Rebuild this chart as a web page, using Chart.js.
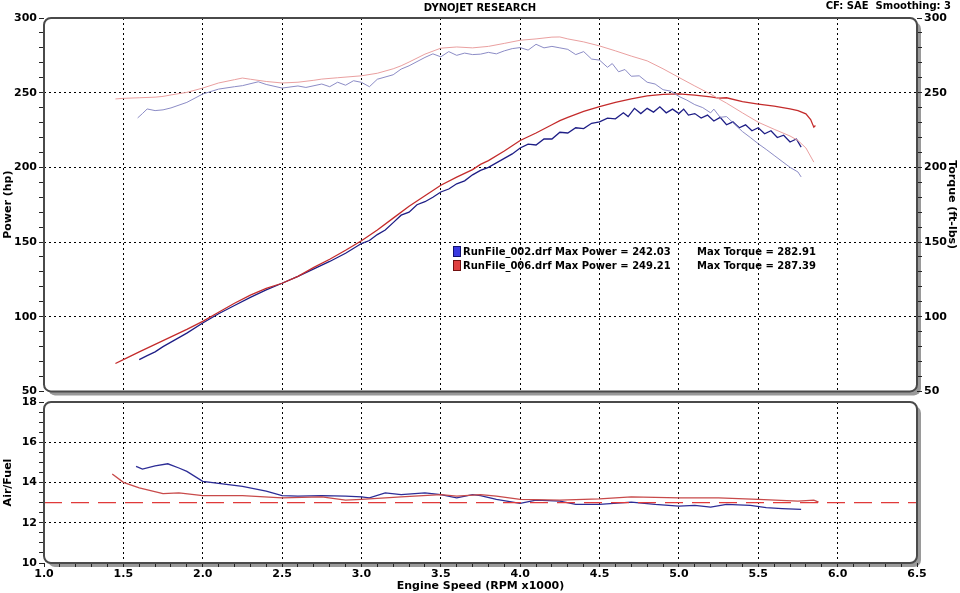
<!DOCTYPE html>
<html>
<head>
<meta charset="utf-8">
<script src="https://cdn.jsdelivr.net/npm/chart.js@4.4.0/dist/chart.umd.min.js"></script>
<style>
  html, body { margin: 0; padding: 0; background: #fff; }
  #wrap { position: relative; width: 960px; height: 593px; overflow: hidden; font-family: "DejaVu Sans", Verdana, sans-serif; }
  #top { position: absolute; left: 0; top: 0; }
  #bottom { position: absolute; left: 0; top: 386px; }
  .hdr { position: absolute; font-weight: bold; font-size: 10px; color: #000; white-space: nowrap; }
</style>
</head>
<body>
<div id="wrap">
  <canvas id="top" width="960" height="400"></canvas>
  <canvas id="bottom" width="960" height="207"></canvas>
  <div class="hdr" style="left:0;width:960px;text-align:center;top:2px;">DYNOJET RESEARCH</div>
  <div class="hdr" style="right:9px;top:0px;">CF: SAE&nbsp; Smoothing: 3</div>
</div>
<script>
// Runs and summary values
const runNames = ['RunFile_002.drf', 'RunFile_006.drf'];
const maxPower = [242.03, 249.21];
const maxTorque = [282.91, 287.39];

// Tick labels
const rpmLabels = [1.0, 1.5, 2.0, 2.5, 3.0, 3.5, 4.0, 4.5, 5.0, 5.5, 6.0, 6.5];
const powerLabels = [50, 100, 150, 200, 250, 300];
const afrLabels = [10, 12, 14, 16, 18];
const afrTarget = 13.0;

// Run 002 (blue) - power
const rpm002Power = [1.60, 1.65, 1.70, 1.75, 1.80, 1.90, 2.00, 2.10, 2.20, 2.30, 2.40, 2.50, 2.60, 2.70, 2.80, 2.90,
  3.00, 3.05, 3.10, 3.15, 3.20, 3.25, 3.30, 3.35, 3.40, 3.45, 3.50, 3.55, 3.60, 3.65, 3.70, 3.75, 3.80, 3.85, 3.90, 3.95,
  4.00, 4.05, 4.10, 4.15, 4.20, 4.25, 4.30, 4.35, 4.40, 4.45, 4.50, 4.55, 4.60, 4.65, 4.68, 4.72, 4.76, 4.80, 4.84, 4.88,
  4.92, 4.96, 5.00, 5.03, 5.06, 5.10, 5.14, 5.18, 5.22, 5.26, 5.30, 5.34, 5.38, 5.42, 5.46, 5.50, 5.54, 5.58, 5.62, 5.66,
  5.70, 5.74, 5.77];
const power002 = [71.3, 74, 76.5, 80, 83, 89, 95.8, 102, 107.5, 113, 118, 122.4, 127, 132, 137, 142.5,
  149, 151, 155, 158, 163, 168, 170, 175, 177, 180, 183.5, 185.5, 189, 191, 195, 198, 200, 203, 206, 209,
  213, 215.5, 215, 219, 219, 223.5, 223, 226.5, 226, 229.5, 230.5, 233, 232.5, 236.5, 234, 239.5, 236, 239.5, 237, 240.5,
  236.5, 239, 236, 239, 235, 236, 233, 235, 231, 233.5, 228.5, 230.5, 226.5, 228.5, 224.5, 226.5, 222.5, 224.5, 220, 221.5,
  217, 219, 213.5];

// Run 006 (red) - power
const rpm006Power = [1.45, 1.50, 1.60, 1.70, 1.80, 1.90, 2.00, 2.10, 2.20, 2.30, 2.40, 2.50, 2.60, 2.70, 2.80, 2.90,
  3.00, 3.10, 3.20, 3.30, 3.40, 3.50, 3.60, 3.70, 3.75, 3.80, 3.90, 4.00, 4.10, 4.20, 4.25, 4.30, 4.40, 4.50, 4.60,
  4.70, 4.75, 4.80, 4.90, 5.00, 5.10, 5.20, 5.25, 5.30, 5.40, 5.50, 5.60, 5.70, 5.75, 5.80, 5.83, 5.85, 5.86];
const power006 = [68.7, 71.3, 76.5, 81.5, 86.5, 91.5, 96.9, 103, 109, 114.5, 119, 122.4, 127, 133, 138.5, 144.5,
  150.9, 158, 166, 174, 181, 188, 193.5, 198.5, 202, 204.5, 211, 218, 223, 228.5, 231.3, 233.5, 237.5, 240.7, 243.5,
  245.8, 246.9, 247.8, 248.8, 249.2, 248.4, 247.2, 246.4, 246.6, 244, 242.4, 241, 239.1, 238, 235.8, 232, 226.9, 228];

// Run 002 (blue) - torque
const rpm002Torque = [1.59, 1.62, 1.65, 1.70, 1.75, 1.80, 1.90, 2.00, 2.10, 2.20, 2.25, 2.35, 2.40, 2.50, 2.60, 2.65,
  2.75, 2.80, 2.85, 2.90, 2.95, 3.00, 3.05, 3.10, 3.20, 3.25, 3.30, 3.40, 3.45, 3.50, 3.55, 3.60, 3.65, 3.70, 3.75,
  3.80, 3.85, 3.90, 3.95, 4.00, 4.05, 4.10, 4.15, 4.20, 4.25, 4.30, 4.35, 4.40, 4.45, 4.50, 4.55, 4.58, 4.62, 4.66,
  4.70, 4.75, 4.80, 4.85, 4.90, 4.95, 5.00, 5.05, 5.10, 5.15, 5.20, 5.22, 5.26, 5.30, 5.35, 5.40, 5.45, 5.50, 5.55,
  5.60, 5.65, 5.70, 5.75, 5.77];
const torque002 = [233.1, 236, 239.1, 238, 238.5, 239.8, 243.5, 249.1, 252.4, 254, 254.7, 257.3, 255.5, 253.1, 254.5, 253.5,
  255.8, 254, 257, 255, 258, 256.9, 254, 259, 262, 265.8, 268, 273.6, 276, 274, 277.5, 275, 276.5, 275.5, 275.8,
  277, 276, 278, 279.5, 280.2, 278.5, 282.4, 280, 281, 280, 279, 275.5, 277.5, 272.5, 271.8, 267, 269.5, 264, 265.5,
  261, 261.3, 257, 255.8, 252, 251, 247.5, 245, 242, 240, 236.5, 239, 233.5, 234, 229, 224, 220, 215.8, 212,
  208, 204, 200, 196.9, 193.6];

// Run 006 (red) - torque
const rpm006Torque = [1.45, 1.50, 1.60, 1.70, 1.75, 1.80, 1.90, 2.00, 2.10, 2.20, 2.25, 2.30, 2.40, 2.50, 2.60, 2.70,
  2.75, 2.85, 3.00, 3.10, 3.20, 3.25, 3.30, 3.40, 3.50, 3.60, 3.70, 3.80, 3.90, 4.00, 4.10, 4.20, 4.25, 4.30, 4.40,
  4.50, 4.60, 4.70, 4.80, 4.90, 5.00, 5.10, 5.20, 5.30, 5.40, 5.50, 5.60, 5.70, 5.75, 5.80, 5.85];
const torque006 = [245.8, 246.2, 246.6, 247, 247.5, 248.5, 250.2, 253.1, 256.5, 258.7, 259.8, 259, 257.5, 256.5, 257, 258.3,
  259.1, 260, 261.3, 263, 266, 268, 270.5, 275.8, 279.8, 280.6, 280, 281, 283, 285.1, 286, 287.2, 287.3, 286, 284,
  281.3, 278, 274.5, 271.3, 266, 260.2, 254.5, 249, 243, 236.5, 230.2, 225.5, 221, 218, 213, 203.5];

// Air/Fuel
const rpm002Afr = [1.58, 1.62, 1.70, 1.78, 1.85, 1.90, 2.00, 2.25, 2.40, 2.50, 2.60, 2.75, 2.90, 3.00, 3.05, 3.15,
  3.25, 3.40, 3.50, 3.60, 3.70, 3.75, 3.85, 4.00, 4.10, 4.25, 4.35, 4.50, 4.70, 4.85, 5.00, 5.10, 5.20, 5.30, 5.45,
  5.55, 5.65, 5.77];
const afr002 = [14.80, 14.67, 14.83, 14.93, 14.72, 14.55, 14.06, 13.81, 13.57, 13.35, 13.32, 13.35, 13.32, 13.29, 13.24, 13.48,
  13.40, 13.48, 13.40, 13.24, 13.40, 13.35, 13.16, 12.96, 13.12, 13.07, 12.91, 12.91, 13.02, 12.91, 12.83, 12.86, 12.78, 12.91, 12.86,
  12.75, 12.70, 12.66];
const rpm006Afr = [1.43, 1.50, 1.60, 1.75, 1.85, 2.00, 2.25, 2.50, 2.75, 2.90, 3.00, 3.25, 3.50, 3.60, 3.75, 3.85,
  4.00, 4.25, 4.50, 4.70, 5.00, 5.25, 5.50, 5.75, 5.85, 5.88];
const afr006 = [14.42, 14.01, 13.73, 13.45, 13.48, 13.35, 13.35, 13.24, 13.29, 13.12, 13.16, 13.29, 13.40, 13.32, 13.40, 13.32,
  13.16, 13.12, 13.19, 13.29, 13.24, 13.24, 13.16, 13.07, 13.12, 13.02];

const xy = (xs, ys) => xs.map((x, i) => ({ x: x, y: ys[i] }));

const BLUE_PWR = '#1e1e86';
const RED_PWR = '#c42c2c';
const BLUE_TQ = '#8c8cc6';
const RED_TQ = '#eaa0a0';
const BLUE_AFR = '#2c2c96';
const RED_AFR = '#c84a4a';

const tickFont = { family: '"DejaVu Sans", Verdana, sans-serif', size: 11, weight: 'bold' };
const titleFont = { family: '"DejaVu Sans", Verdana, sans-serif', size: 11, weight: 'bold' };
const isOn = (v, list) => list.some(t => Math.abs(t - v) < 1e-6);
const xMajor = rpmLabels.slice(1, -1);

// white rounded panel with gray shadow, border drawn over the data
const panelPlugin = {
  id: 'panel',
  beforeDraw(chart) {
    const { ctx, chartArea: a } = chart;
    ctx.save();
    ctx.fillStyle = '#9a9a9a';
    ctx.beginPath();
    ctx.roundRect(a.left + 4, a.top + 4, a.right - a.left, a.bottom - a.top, 7);
    ctx.fill();
    ctx.fillStyle = '#fff';
    ctx.beginPath();
    ctx.roundRect(a.left, a.top, a.right - a.left, a.bottom - a.top, 7);
    ctx.fill();
    ctx.restore();
  },
  afterDraw(chart) {
    const { ctx, chartArea: a } = chart;
    ctx.save();
    ctx.strokeStyle = '#4a4a4a';
    ctx.lineWidth = 2;
    ctx.beginPath();
    ctx.roundRect(a.left, a.top, a.right - a.left, a.bottom - a.top, 7);
    ctx.stroke();
    ctx.restore();
  }
};

// the in-plot run legend
const runLegend = {
  id: 'runLegend',
  afterDatasetsDraw(chart) {
    const { ctx, chartArea: a } = chart;
    const colors = [['#3a3ae0', '#101070'], ['#e04040', '#701010']];
    ctx.save();
    ctx.font = 'bold 10px "DejaVu Sans", Verdana, sans-serif';
    ctx.textBaseline = 'middle';
    ctx.fillStyle = '#000';
    runNames.forEach((name, i) => {
      const y = a.top + 233 + i * 14;
      ctx.fillStyle = colors[i][0];
      ctx.fillRect(a.left + 409, y - 5, 7, 10);
      ctx.strokeStyle = colors[i][1];
      ctx.lineWidth = 1;
      ctx.strokeRect(a.left + 409.5, y - 4.5, 7, 10);
      ctx.fillStyle = '#000';
      ctx.fillText(name + ' Max Power = ' + maxPower[i].toFixed(2), a.left + 419, y + 1);
      ctx.fillText('Max Torque = ' + maxTorque[i].toFixed(2), a.left + 653, y + 1);
    });
    ctx.restore();
  }
};

const xScale = (showLabels) => ({
  type: 'linear',
  min: 1, max: 6.5,
  afterFit: s => { s.height = showLabels ? 30 : 8; },
  ticks: {
    display: showLabels,
    stepSize: 0.1,
    autoSkip: false,
    maxRotation: 0,
    font: tickFont,
    color: '#000',
    padding: 1,
    callback: v => isOn(v, rpmLabels) ? v.toFixed(1) : ''
  },
  grid: {
    drawTicks: showLabels,
    tickLength: 4,
    tickColor: '#222',
    color: c => isOn(c.tick.value, xMajor) ? '#000' : 'rgba(0,0,0,0)',
    lineWidth: 1
  },
  border: { display: false, dash: [2, 3] },
  title: showLabels ? { display: true, text: 'Engine Speed (RPM x1000)', font: titleFont, color: '#000', padding: 0 } : { display: false }
});

const yScale = (pos, min, max, step, labels, title, width) => ({
  type: 'linear',
  position: pos,
  min: min, max: max,
  afterFit: s => { s.width = width; },
  ticks: {
    stepSize: step,
    autoSkip: false,
    font: tickFont,
    color: '#000',
    padding: 2,
    callback: v => isOn(v, labels) ? String(v) : ''
  },
  grid: {
    drawOnChartArea: pos === 'left',
    tickLength: 5,
    tickColor: '#222',
    color: c => isOn(c.tick.value, labels.slice(1, -1)) ? '#000' : 'rgba(0,0,0,0)'
  },
  border: { display: false, dash: [2, 3] },
  title: { display: true, text: title, font: titleFont, color: '#000', padding: { top: 2, bottom: 0 } }
});

const line = (label, data, color, width, axis) => ({
  label: label,
  data: data,
  borderColor: color,
  borderWidth: width,
  pointRadius: 0,
  tension: 0,
  fill: false,
  yAxisID: axis
});

new Chart(document.getElementById('top'), {
  type: 'line',
  data: {
    datasets: [
      line(runNames[1] + ' Torque', xy(rpm006Torque, torque006), RED_TQ, 1, 'y2'),
      line(runNames[0] + ' Torque', xy(rpm002Torque, torque002), BLUE_TQ, 1, 'y2'),
      line(runNames[1] + ' Power', xy(rpm006Power, power006), RED_PWR, 1.3, 'y'),
      line(runNames[0] + ' Power', xy(rpm002Power, power002), BLUE_PWR, 1.3, 'y')
    ]
  },
  options: {
    responsive: false,
    animation: false,
    devicePixelRatio: 1,
    layout: { padding: { top: 18, left: 0, right: 0, bottom: 0 } },
    plugins: { legend: { display: false }, tooltip: { enabled: false } },
    scales: {
      x: xScale(false),
      y: yScale('left', 50, 300, 10, powerLabels, 'Power (hp)', 44),
      y2: yScale('right', 50, 300, 10, powerLabels, 'Torque (ft-lbs)', 43)
    }
  },
  plugins: [panelPlugin, runLegend]
});

new Chart(document.getElementById('bottom'), {
  type: 'line',
  data: {
    datasets: [
      Object.assign(line('Target', xy([rpmLabels[0], rpmLabels[rpmLabels.length - 1]], [afrTarget, afrTarget]), '#e03a3a', 1.2, 'y'), { borderDash: [18, 9] }),
      line(runNames[1] + ' A/F', xy(rpm006Afr, afr006), RED_AFR, 1.3, 'y'),
      line(runNames[0] + ' A/F', xy(rpm002Afr, afr002), BLUE_AFR, 1.3, 'y')
    ]
  },
  options: {
    responsive: false,
    animation: false,
    devicePixelRatio: 1,
    layout: { padding: { top: 16, left: 0, right: 43, bottom: 0 } },
    plugins: { legend: { display: false }, tooltip: { enabled: false } },
    scales: {
      x: xScale(true),
      y: yScale('left', 10, 18, 0.5, afrLabels, 'Air/Fuel', 44)
    }
  },
  plugins: [panelPlugin]
});
</script>
</body>
</html>
